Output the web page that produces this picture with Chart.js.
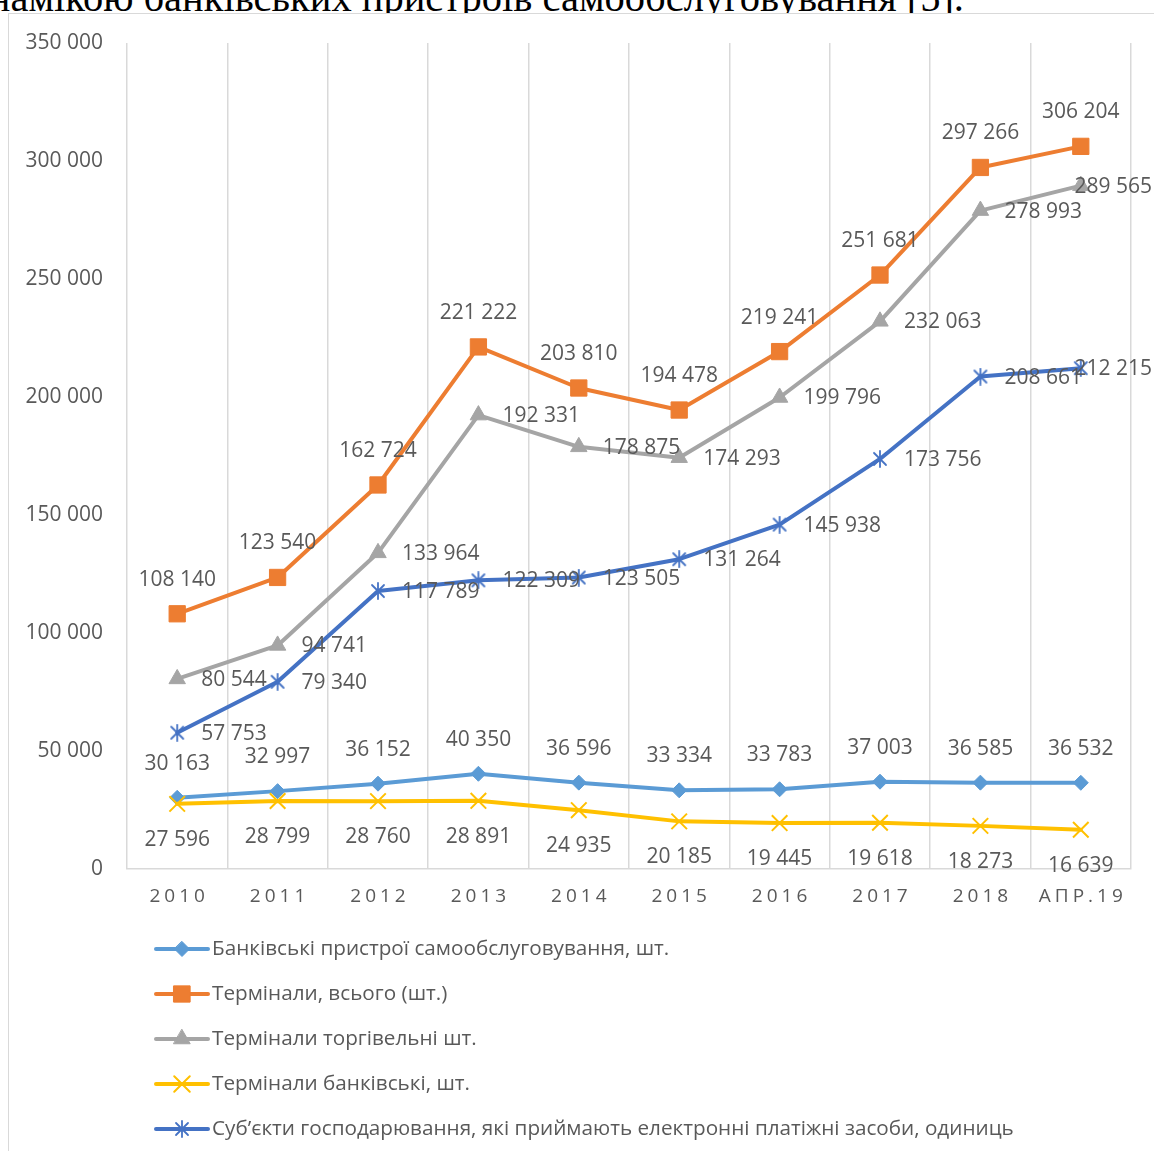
<!DOCTYPE html>
<html><head><meta charset="utf-8">
<script src="https://cdn.jsdelivr.net/npm/chart.js@4.4.1/dist/chart.umd.min.js"></script>
<style>
html,body{margin:0;padding:0;background:#fff;overflow:hidden;width:1154px;height:1151px;position:relative;}
#hdr{position:absolute;right:190px;top:-22px;font-family:"Liberation Serif","Times New Roman",serif;font-size:40.5px;line-height:40.5px;white-space:nowrap;color:#000;}
#frame{position:absolute;left:8px;top:13px;width:1200px;height:1200px;border:1.5px solid #d9d9d9;box-sizing:border-box;background:#fff;}
#wrap{position:absolute;left:0;top:0;width:1154px;height:1151px;}
</style></head>
<body>
<div id="hdr">намікою банківських пристроїв самообслуговування [5].</div>
<div id="frame"></div>
<div id="wrap"><canvas id="c" width="1154" height="1151"></canvas></div>
<script>
const categories = ['2010','2011','2012','2013','2014','2015','2016','2017','2018','АПР.19'];
const seriesNames = [
  'Банківські пристрої самообслуговування, шт.',
  'Термінали, всього (шт.)',
  'Термінали торгівельні шт.',
  'Термінали банківські, шт.',
  'Суб’єкти господарювання, які приймають електронні платіжні засоби, одиниць'
];
const bankDevices   = [30163, 32997, 36152, 40350, 36596, 33334, 33783, 37003, 36585, 36532];
const terminalsAll  = [108140, 123540, 162724, 221222, 203810, 194478, 219241, 251681, 297266, 306204];
const terminalsTrade= [80544, 94741, 133964, 192331, 178875, 174293, 199796, 232063, 278993, 289565];
const terminalsBank = [27596, 28799, 28760, 28891, 24935, 20185, 19445, 19618, 18273, 16639];
const merchants     = [57753, 79340, 117789, 122309, 123505, 131264, 145938, 173756, 208661, 212215];
const yTicks = [0, 50000, 100000, 150000, 200000, 250000, 300000, 350000];

const fmt = v => String(v).replace(/\B(?=(\d{3})+(?!\d))/g, ' ');
const FONT = '"Open Sans", "Liberation Sans", sans-serif';

function starMarker(color){
  const c = document.createElement('canvas'); c.width = 18; c.height = 18;
  const g = c.getContext('2d'); g.strokeStyle = color; g.lineWidth = 1.8; g.lineCap='round';
  g.beginPath();
  g.moveTo(3,3); g.lineTo(15,15); g.moveTo(15,3); g.lineTo(3,15); g.moveTo(9,1); g.lineTo(9,17);
  g.stroke();
  return c;
}
const starImg = starMarker('#4472C4');

function mk(label, data, color, style, radius, bw, pos, order){
  return {label, data, borderColor: color, backgroundColor: color, borderWidth: 4,
    pointStyle: style, pointRadius: radius, pointHoverRadius: radius, pointBorderWidth: bw,
    pointBackgroundColor: color, pointBorderColor: color, tension: 0,
    borderJoinStyle: 'round', borderCapStyle: 'round', labelPos: pos, order, clip: false};
}
const datasets = [
  mk(seriesNames[0], bankDevices, '#5B9BD5', 'rectRot', 7.5, 1, 'above', 4),
  mk(seriesNames[1], terminalsAll, '#ED7D31', 'rect', 11.5, 1, 'above', 3),
  mk(seriesNames[2], terminalsTrade, '#A5A5A5', 'triangle', 9.5, 1, 'right', 2),
  mk(seriesNames[3], terminalsBank, '#FFC000', 'crossRot', 11, 2, 'below', 1),
  mk(seriesNames[4], merchants, '#4472C4', starImg, 9, 1, 'right', 0)
];

function drawMarker(ctx, ds, x, y){
  const c = ds.pointBackgroundColor, r = ds.pointRadius;
  ctx.save(); ctx.fillStyle = c; ctx.strokeStyle = c; ctx.lineWidth = ds.pointBorderWidth;
  const s = ds.pointStyle;
  ctx.beginPath();
  if (s === 'rectRot'){ ctx.moveTo(x, y-r); ctx.lineTo(x+r, y); ctx.lineTo(x, y+r); ctx.lineTo(x-r, y); ctx.closePath(); ctx.fill(); ctx.stroke(); }
  else if (s === 'rect'){ const h = r*Math.SQRT1_2; ctx.rect(x-h, y-h, 2*h, 2*h); ctx.fill(); ctx.stroke(); }
  else if (s === 'triangle'){ ctx.moveTo(x, y-r); ctx.lineTo(x+r*0.866, y+r/2); ctx.lineTo(x-r*0.866, y+r/2); ctx.closePath(); ctx.fill(); ctx.stroke(); }
  else if (s === 'crossRot'){ const h = r*Math.SQRT1_2; ctx.moveTo(x-h,y-h); ctx.lineTo(x+h,y+h); ctx.moveTo(x+h,y-h); ctx.lineTo(x-h,y+h); ctx.stroke(); }
  else if (s instanceof HTMLCanvasElement){ ctx.drawImage(s, x - s.width/2, y - s.height/2); }
  ctx.restore();
}

const overlay = {
  id: 'overlay',
  afterDatasetsDraw(chart){
    const ctx = chart.ctx;
    ctx.save();
    ctx.font = '21px ' + FONT; ctx.fillStyle = '#595959'; ctx.textBaseline = 'middle';
    chart.data.datasets.forEach((ds, i) => {
      const meta = chart.getDatasetMeta(i);
      meta.data.forEach((pt, j) => {
        const txt = fmt(ds.data[j]);
        const w = ctx.measureText(txt).width;
        let x = pt.x, y = pt.y;
        if (ds.labelPos === 'above'){ ctx.textAlign = 'center'; y -= 34; }
        else if (ds.labelPos === 'below'){ ctx.textAlign = 'center'; y += 36; }
        else { ctx.textAlign = 'left'; x += 24; y += 1; if (x + w > chart.width - 2) x = chart.width - 2 - w; }
        ctx.fillText(txt, x, y);
      });
    });
    ctx.restore();
  },
  afterDraw(chart){
    const ctx = chart.ctx, xs = chart.scales.x;
    ctx.save();
    ctx.font = '19px ' + FONT; ctx.fillStyle = '#595959';
    ctx.textAlign = 'center'; ctx.textBaseline = 'middle';
    const sp = 4; ctx.letterSpacing = sp + 'px';
    chart.data.labels.forEach((l, i) => ctx.fillText(l, xs.getPixelForValue(i) + sp/2, xs.top + 28));
    ctx.letterSpacing = '0px';
    // legend
    const top = chart.chartArea.bottom + 80;
    ctx.font = '20.7px ' + FONT; ctx.textAlign = 'left';
    chart.data.datasets.forEach((ds, i) => {
      const y = top + i * 45;
      ctx.strokeStyle = ds.borderColor; ctx.lineWidth = 4; ctx.lineCap = 'round';
      ctx.beginPath(); ctx.moveTo(156, y); ctx.lineTo(208, y); ctx.stroke();
      drawMarker(ctx, ds, 182, y);
      ctx.fillStyle = '#595959';
      ctx.fillText(ds.label, 212, y);
    });
    ctx.restore();
  }
};

new Chart(document.getElementById('c'), {
  type: 'line',
  data: { labels: categories, datasets },
  options: {
    responsive: false, animation: false, devicePixelRatio: 1,
    layout: { padding: { top: 43, right: 23, bottom: 222, left: 0 } },
    plugins: { legend: { display: false }, tooltip: { enabled: false } },
    scales: {
      x: { offset: true,
        grid: { offset: true, color: '#d9d9d9', lineWidth: 1.5, drawTicks: false },
        border: { color: '#d9d9d9', width: 1.5 },
        ticks: { display: false },
        afterFit(s){ s.height = 60; } },
      y: { min: 0, max: 350000,
        afterBuildTicks(s){ s.ticks = yTicks.map(v => ({ value: v })); },
        ticks: { color: '#595959', font: { family: FONT, size: 21 }, padding: 24, callback: v => fmt(v) },
        grid: { display: false, drawTicks: false },
        border: { display: false },
        afterFit(s){ s.width = 127; } }
    }
  },
  plugins: [overlay]
});
</script>
</body></html>
